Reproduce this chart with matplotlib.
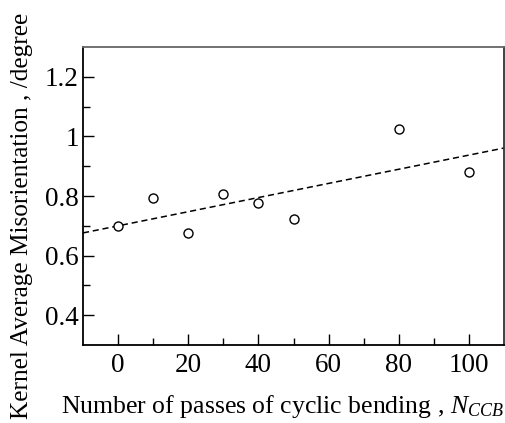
import numpy as np
import matplotlib
matplotlib.use("Agg")
import matplotlib.pyplot as plt

passes = [0, 10, 20, 30, 40, 50, 80, 100]
kam = [0.700, 0.793, 0.676, 0.807, 0.778, 0.723, 1.025, 0.880]
xticks = [0, 20, 40, 60, 80, 100]
yticks = [0.4, 0.6, 0.8, 1.0, 1.2]
ytick_labels = ["0.4", "0.6", "0.8", "1", "1.2"]

plt.rcParams['font.family'] = ['Liberation Serif', 'DejaVu Serif']
plt.rcParams['mathtext.fontset'] = 'custom'
plt.rcParams['mathtext.it'] = 'Liberation Serif:italic'
plt.rcParams['mathtext.rm'] = 'Liberation Serif'

fig = plt.figure(figsize=(5.05, 4.23), dpi=100)
ax = fig.add_axes([83/505, 1-345/423, (504-83)/505, (345-47)/423])

slope, intercept = np.polyfit(passes, kam, 1)
xl = np.array([-10, 110])
ax.plot(xl, slope*xl + intercept, color='black', lw=1.1, ls=(0, (4, 2.5)), zorder=2)
ax.plot(passes, kam, 'o', mfc='white', mec='black', ms=6.5, mew=1.0, zorder=3, clip_on=False)

ax.set_xlim(-10, 110)
ax.set_ylim(0.3, 1.3)
ax.set_xticks(xticks)
ax.set_xticklabels([str(t) for t in xticks])
ax.set_xticks(np.arange(10, 110, 20), minor=True)
ax.set_yticks(yticks)
ax.set_yticklabels(ytick_labels)
ax.set_yticks([0.5, 0.7, 0.9, 1.1], minor=True)

ax.tick_params(which='major', direction='in', length=8, width=1.0, labelsize=19.5,
               top=False, right=False)
ax.tick_params(axis='y', which='major', pad=3)
ax.tick_params(axis='x', which='major', pad=6)
ax.tick_params(which='minor', direction='in', length=5, width=1.0, top=False, right=False)

ax.spines['left'].set_linewidth(1.3)
ax.spines['bottom'].set_linewidth(1.3)
ax.spines['top'].set_color('#666666')
ax.spines['top'].set_linewidth(1.3)
ax.spines['right'].set_color('#333333')
ax.spines['right'].set_linewidth(1.3)

ax.set_xlabel(r"Number of passes of cyclic bending , $N_{CCB}$", fontsize=18.5)
ax.xaxis.label.set_va('baseline')
ax.xaxis.set_label_coords(0.474, -0.228)
ax.set_ylabel("Kernel Average Misorientation , /degree", fontsize=18.2)
ax.yaxis.label.set_va('center')
ax.yaxis.set_label_coords(-0.145, 0.432)

fig.savefig("out.png", dpi=100)
